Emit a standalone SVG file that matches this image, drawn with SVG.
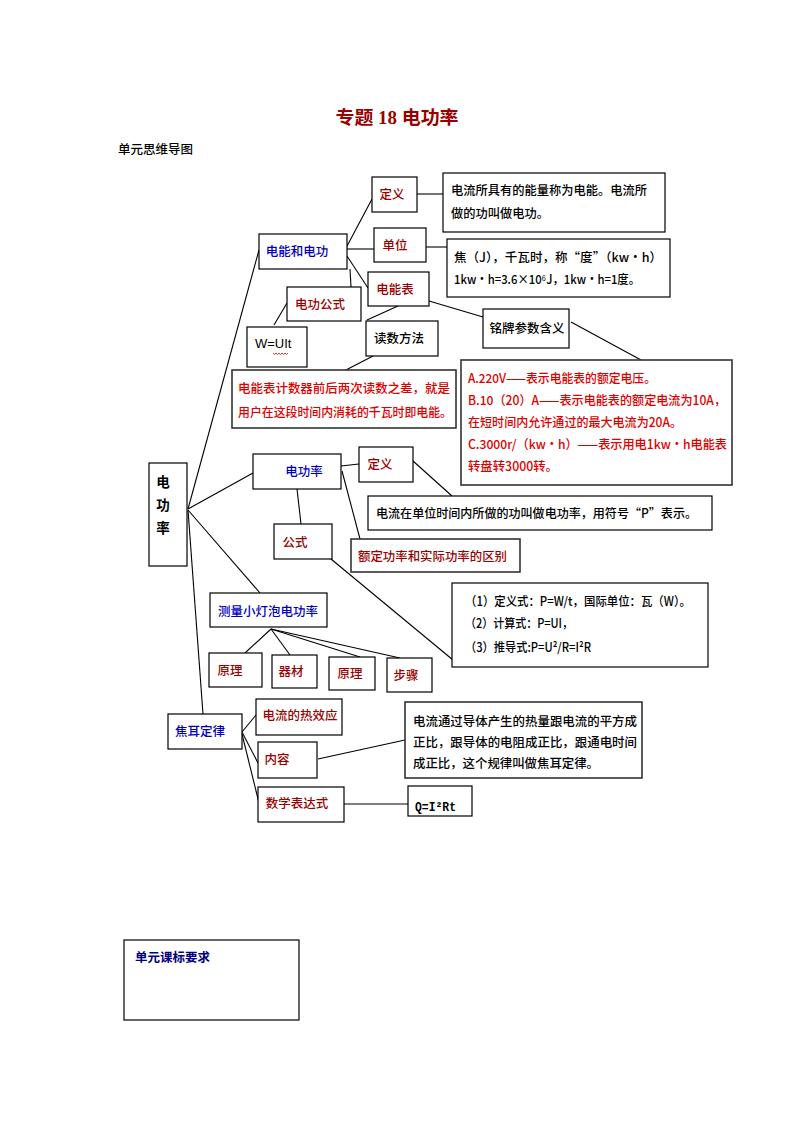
<svg xmlns="http://www.w3.org/2000/svg" width="794" height="1123" viewBox="0 0 794 1123">
<style>
text{font-family:"Noto Sans CJK SC","Liberation Sans",sans-serif;font-size:12.5px;font-weight:500;}
.box{fill:#fff;stroke:#000;stroke-width:1.2;}
.box2{fill:#fff;stroke:#333;stroke-width:1.6;}
.red{fill:#990000;}
.bred{fill:#dd0000;}
.blue{fill:#0000bb;}
.blk{fill:#000;}
.c{text-anchor:middle;}
#connectors line{stroke:#000;stroke-width:1.1;}
</style>
<rect width="794" height="1123" fill="#fff"/>
<text x="397" y="124" class="c" style="font-family:'Liberation Serif','Noto Sans CJK SC',serif;font-size:18px;font-weight:bold;fill:#990000" textLength="123" lengthAdjust="spacingAndGlyphs">专题 18 电功率</text>
<text x="118" y="154" class="blk">单元思维导图</text>

<g id="connectors">
<line x1="259" y1="250" x2="188" y2="509"/>
<line x1="346" y1="248" x2="372" y2="199"/>
<line x1="347" y1="249" x2="374" y2="249"/>
<line x1="347" y1="256" x2="368" y2="288"/>
<line x1="350" y1="269" x2="351" y2="287"/>
<line x1="287" y1="303" x2="274" y2="325"/>
<line x1="398" y1="306" x2="367" y2="320"/>
<line x1="373" y1="356" x2="344" y2="371"/>
<line x1="417" y1="194" x2="443" y2="194"/>
<line x1="426" y1="247" x2="447" y2="247"/>
<line x1="429" y1="301" x2="483" y2="317"/>
<line x1="571" y1="322" x2="641" y2="360"/>
<line x1="188" y1="509" x2="253" y2="473"/>
<line x1="341" y1="466" x2="359" y2="464"/>
<line x1="413" y1="461" x2="452" y2="496"/>
<line x1="342" y1="471" x2="360" y2="539"/>
<line x1="297" y1="489" x2="301" y2="524"/>
<line x1="331" y1="559" x2="453" y2="660"/>
<line x1="188" y1="510" x2="260" y2="593"/>
<line x1="188" y1="510" x2="203" y2="714"/>
<line x1="271" y1="629" x2="245" y2="653"/>
<line x1="271" y1="629" x2="290" y2="655"/>
<line x1="271" y1="629" x2="360" y2="657"/>
<line x1="271" y1="629" x2="400" y2="658"/>
<line x1="242" y1="732" x2="256" y2="715"/>
<line x1="242" y1="732" x2="258" y2="763"/>
<line x1="242" y1="734" x2="259" y2="803"/>
<line x1="318" y1="759" x2="405" y2="740"/>
<line x1="344" y1="804" x2="408" y2="804"/>
</g>

<g id="n-main">
<rect class="box" x="149" y="463" width="38" height="103"/>
<text x="163" y="487" class="c blk" style="font-size:13.5px;font-weight:bold">电</text>
<text x="163" y="510" class="c blk" style="font-size:13.5px;font-weight:bold">功</text>
<text x="163" y="533" class="c blk" style="font-size:13.5px;font-weight:bold">率</text>
</g>

<g id="n-dnhdg">
<rect class="box" x="259" y="234" width="88" height="35"/>
<text x="297" y="256" class="c blue">电能和电功</text>
</g>
<g id="n-dy1">
<rect class="box" x="372" y="177" width="45" height="35"/>
<text x="392" y="199" class="c red">定义</text>
</g>
<g id="n-dw">
<rect class="box" x="374" y="228" width="52" height="34"/>
<text x="395" y="250" class="c red">单位</text>
</g>
<g id="n-dnb">
<rect class="box" x="368" y="272" width="61" height="34"/>
<text x="395" y="294" class="c red">电能表</text>
</g>
<g id="n-dggs">
<rect class="box" x="287" y="287" width="74" height="34"/>
<text x="320" y="309" class="c red">电功公式</text>
</g>
<g id="n-wuit">
<rect class="box" x="247" y="327" width="60" height="40"/>
<text x="255" y="348" class="blk" style="font-family:'Liberation Sans',sans-serif;font-size:13px">W=UIt</text>
<path d="M273 353 l1.5 1.5 l1.5 -1.5 l1.5 1.5 l1.5 -1.5 l1.5 1.5 l1.5 -1.5 l1.5 1.5 l1.5 -1.5 l1.5 1.5 l1.5 -1.5" fill="none" stroke="#d00" stroke-width="0.8"/>
</g>
<g id="n-dsff">
<rect class="box" x="366" y="321" width="72" height="35"/>
<text x="399" y="343" class="c blk">读数方法</text>
</g>
<g id="n-mp">
<rect class="box" x="483" y="309" width="86" height="39"/>
<text x="527" y="333" class="c blk">铭牌参数含义</text>
</g>
<g id="n-dsbox">
<rect class="box2" x="232" y="370" width="224" height="58"/>
<text x="238" y="393" class="bred" textLength="212" lengthAdjust="spacingAndGlyphs">电能表计数器前后两次读数之差，就是</text>
<text x="238" y="417" class="bred" textLength="214" lengthAdjust="spacingAndGlyphs">用户在这段时间内消耗的千瓦时即电能。</text>
</g>
<g id="n-defbox">
<rect class="box" x="443" y="173" width="222" height="59"/>
<text x="451" y="195" class="blk" textLength="196" lengthAdjust="spacingAndGlyphs">电流所具有的能量称为电能。电流所</text>
<text x="451" y="218" class="blk" textLength="98" lengthAdjust="spacingAndGlyphs">做的功叫做电功。</text>
</g>
<g id="n-unitbox">
<rect class="box" x="447" y="239" width="223" height="58"/>
<text x="454" y="262" class="blk" textLength="208" lengthAdjust="spacingAndGlyphs">焦（J），千瓦时，称“度”（kw·h）</text>
<text x="454" y="284" class="blk" textLength="186" lengthAdjust="spacingAndGlyphs">1kw·h=3.6×10⁶J，1kw·h=1度。</text>
</g>
<g id="n-abox">
<rect class="box2" x="461" y="360" width="271" height="125"/>
<text x="468" y="383" class="bred" textLength="188" lengthAdjust="spacingAndGlyphs">A.220V——表示电能表的额定电压。</text>
<text x="468" y="405" class="bred" textLength="258" lengthAdjust="spacingAndGlyphs">B.10（20）A——表示电能表的额定电流为10A，</text>
<text x="468" y="427" class="bred" textLength="214" lengthAdjust="spacingAndGlyphs">在短时间内允许通过的最大电流为20A。</text>
<text x="468" y="449" class="bred" textLength="259" lengthAdjust="spacingAndGlyphs">C.3000r/（kw·h）——表示用电1kw·h电能表</text>
<text x="468" y="471" class="bred" textLength="90" lengthAdjust="spacingAndGlyphs">转盘转3000转。</text>
</g>

<g id="n-dgl">
<rect class="box" x="253" y="454" width="88" height="35"/>
<text x="304" y="476" class="c blue">电功率</text>
</g>
<g id="n-dy2">
<rect class="box" x="359" y="447" width="54" height="35"/>
<text x="380" y="469" class="c red">定义</text>
</g>
<g id="n-dgldef">
<rect class="box" x="368" y="496" width="344" height="34"/>
<text x="376" y="518" class="blk" textLength="321" lengthAdjust="spacingAndGlyphs">电流在单位时间内所做的功叫做电功率，用符号“P”表示。</text>
</g>
<g id="n-edgl">
<rect class="box2" x="351" y="539" width="169" height="33"/>
<text x="358" y="561" class="red" textLength="149" lengthAdjust="spacingAndGlyphs">额定功率和实际功率的区别</text>
</g>
<g id="n-gs">
<rect class="box" x="274" y="524" width="58" height="35"/>
<text x="295" y="547" class="c red">公式</text>
</g>
<g id="n-gsbox">
<rect class="box" x="452" y="583" width="256" height="84"/>
<text x="465" y="606" class="blk" textLength="226" lengthAdjust="spacingAndGlyphs">（1）定义式：P=W/t，国际单位：瓦（W）。</text>
<text x="465" y="628" class="blk" textLength="108" lengthAdjust="spacingAndGlyphs">（2）计算式：P=UI，</text>
<text x="465" y="652" class="blk" textLength="126" lengthAdjust="spacingAndGlyphs">（3）推导式:P=U²/R=I²R</text>
</g>

<g id="n-cl">
<rect class="box" x="210" y="593" width="117" height="34"/>
<text x="268" y="616" class="c blue">测量小灯泡电功率</text>
</g>
<g id="n-yl1">
<rect class="box" x="209" y="653" width="53" height="34"/>
<text x="230" y="675" class="c red">原理</text>
</g>
<g id="n-qc">
<rect class="box" x="272" y="655" width="45" height="33"/>
<text x="291" y="676" class="c red">器材</text>
</g>
<g id="n-yl2">
<rect class="box" x="329" y="657" width="46" height="33"/>
<text x="350" y="678" class="c red">原理</text>
</g>
<g id="n-bz">
<rect class="box" x="387" y="658" width="45" height="34"/>
<text x="406" y="680" class="c red">步骤</text>
</g>

<g id="n-je">
<rect class="box" x="168" y="714" width="74" height="35"/>
<text x="200" y="736" class="c blue">焦耳定律</text>
</g>
<g id="n-rxy">
<rect class="box" x="256" y="699" width="86" height="36"/>
<text x="300" y="720" class="c red">电流的热效应</text>
</g>
<g id="n-nr">
<rect class="box" x="258" y="742" width="59" height="36"/>
<text x="277" y="764" class="c red">内容</text>
</g>
<g id="n-sx">
<rect class="box" x="258" y="787" width="86" height="35"/>
<text x="297" y="808" class="c red">数学表达式</text>
</g>
<g id="n-nrbox">
<rect class="box2" x="405" y="702" width="237" height="76"/>
<text x="413" y="726" class="blk" textLength="224" lengthAdjust="spacingAndGlyphs">电流通过导体产生的热量跟电流的平方成</text>
<text x="413" y="747" class="blk" textLength="224" lengthAdjust="spacingAndGlyphs">正比，跟导体的电阻成正比，跟通电时间</text>
<text x="413" y="768" class="blk" textLength="186" lengthAdjust="spacingAndGlyphs">成正比，这个规律叫做焦耳定律。</text>
</g>
<g id="n-q">
<rect class="box" x="408" y="786" width="64" height="30"/>
<text x="415" y="811" class="blk" style="font-family:'Liberation Mono',monospace;font-size:13px;font-weight:bold" textLength="41" lengthAdjust="spacingAndGlyphs">Q=I²Rt</text>
</g>

<g id="n-kb">
<rect class="box" x="124" y="940" width="175" height="80"/>
<text x="135" y="962" style="fill:#000080;font-weight:bold">单元课标要求</text>
</g>
</svg>
